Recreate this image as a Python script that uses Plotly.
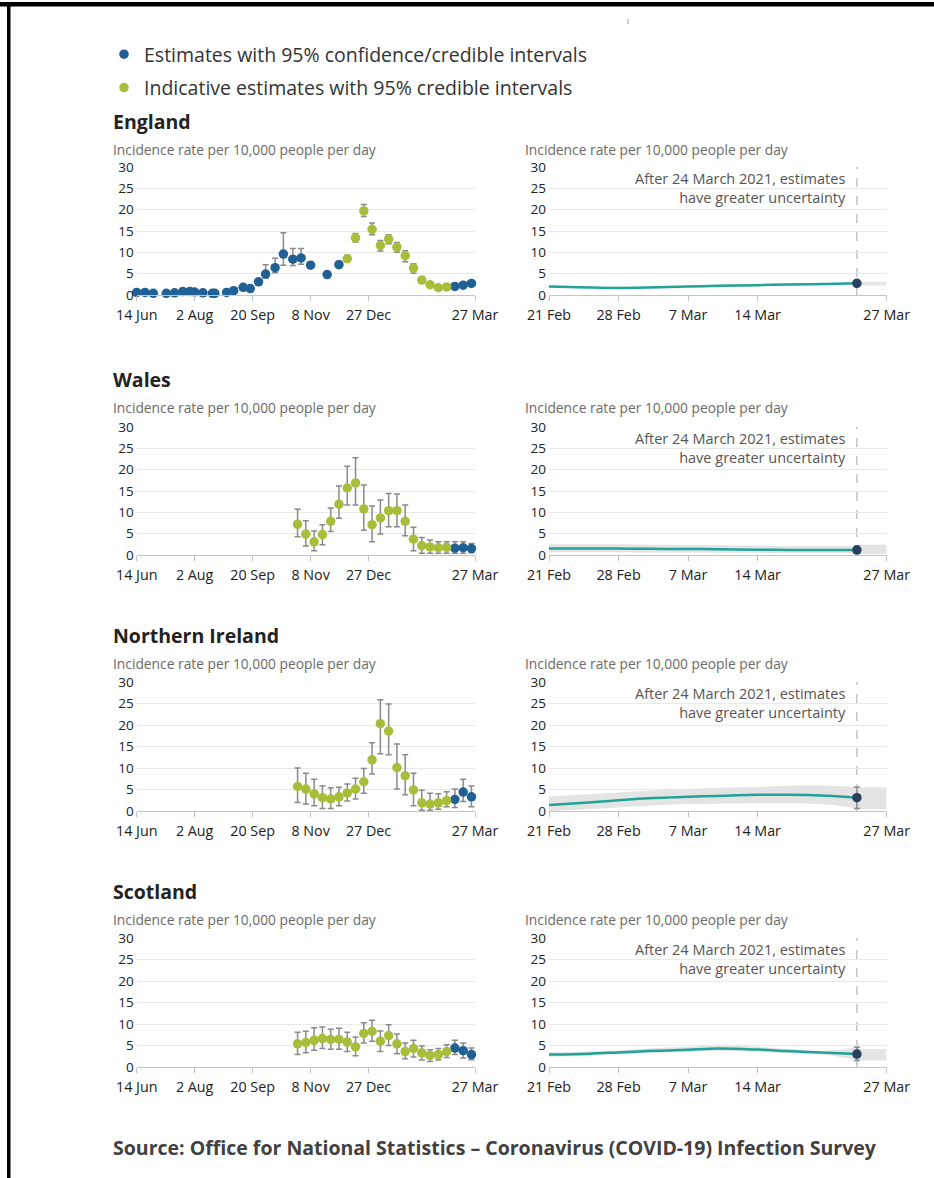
import plotly.graph_objects as go

W, H = 934, 1178

# ---------------- data ----------------
LEFT_TICKS = ["2020-06-14", "2020-08-02", "2020-09-20", "2020-11-08", "2020-12-27", "2021-03-27"]
LEFT_TICKTEXT = ["14 Jun", "2 Aug", "20 Sep", "8 Nov", "27 Dec", "27 Mar"]
RIGHT_TICKS = ["2021-02-21", "2021-02-28", "2021-03-07", "2021-03-14", "2021-03-27"]
RIGHT_TICKTEXT = ["21 Feb", "28 Feb", "7 Mar", "14 Mar", "27 Mar"]
Y_TICKS = [0, 5, 10, 15, 20, 25, 30]

countries = ["England", "Wales", "Northern Ireland", "Scotland"]

eng_dates = ["2020-06-14", "2020-06-21", "2020-06-28", "2020-07-09", "2020-07-16", "2020-07-23",
             "2020-07-29", "2020-08-02", "2020-08-09", "2020-08-17", "2020-08-19", "2020-08-29",
             "2020-09-04", "2020-09-12", "2020-09-18", "2020-09-25", "2020-10-01", "2020-10-09",
             "2020-10-16", "2020-10-24", "2020-10-31", "2020-11-08", "2020-11-22", "2020-12-02",
             "2020-12-09", "2020-12-16", "2020-12-23", "2020-12-30", "2021-01-06", "2021-01-13",
             "2021-01-20", "2021-01-27", "2021-02-03", "2021-02-10", "2021-02-17", "2021-02-24",
             "2021-03-03", "2021-03-10", "2021-03-17", "2021-03-24"]
eng_val = [0.6, 0.6, 0.4, 0.4, 0.5, 0.8, 0.8, 0.7, 0.5, 0.4, 0.4, 0.6, 1.0, 1.8, 1.5, 3.1, 4.9, 6.4,
           9.6, 8.4, 8.7, 7.0, 4.8, 7.1, 8.5, 13.4, 19.7, 15.4, 11.6, 13.1, 11.2, 9.2, 6.3, 3.5,
           2.4, 1.7, 1.9, 2.0, 2.3, 2.7]
eng_lo = [0.4, 0.4, 0.2, 0.2, 0.3, 0.5, 0.5, 0.5, 0.3, 0.2, 0.2, 0.4, 0.7, 1.3, 1.1, 2.5, 4.0, 5.2,
          7.0, 6.9, 7.2, 6.3, 4.3, 6.4, 7.8, 12.4, 18.4, 14.1, 10.3, 12.0, 10.0, 7.8, 5.1, 2.8,
          1.9, 1.3, 1.5, 1.6, 1.9, 2.3]
eng_hi = [0.9, 0.9, 0.7, 0.7, 0.8, 1.1, 1.1, 1.0, 0.8, 0.7, 0.7, 0.9, 1.4, 2.3, 2.0, 3.8, 7.1, 8.6,
          14.6, 10.9, 10.9, 7.8, 5.4, 7.9, 9.3, 14.4, 21.2, 16.9, 12.8, 14.1, 12.3, 10.4, 7.3, 4.3,
          3.0, 2.2, 2.4, 2.5, 2.8, 3.2]
eng_kind = ["E"] * 24 + ["I"] * 13 + ["E"] * 3

dev_dates = ["2020-10-28", "2020-11-04", "2020-11-11", "2020-11-18", "2020-11-25", "2020-12-02",
             "2020-12-09", "2020-12-16", "2020-12-23", "2020-12-30", "2021-01-06", "2021-01-13",
             "2021-01-20", "2021-01-27", "2021-02-03", "2021-02-10", "2021-02-17", "2021-02-24",
             "2021-03-03", "2021-03-10", "2021-03-17", "2021-03-24"]
dev_kind = ["I"] * 19 + ["E"] * 3

wal_val = [7.2, 4.9, 3.1, 4.8, 7.9, 11.9, 15.7, 16.9, 10.8, 7.1, 8.7, 10.4, 10.4, 7.9, 3.7, 2.2,
           1.9, 1.7, 1.8, 1.6, 1.7, 1.5]
wal_lo = [4.3, 2.1, 1.0, 2.4, 5.5, 8.6, 11.7, 11.7, 5.8, 3.1, 4.9, 6.6, 6.6, 4.5, 1.0, 0.4,
          0.4, 0.4, 0.4, 0.4, 0.4, 0.5]
wal_hi = [10.7, 8.0, 5.6, 7.1, 11.0, 16.2, 20.8, 22.8, 16.4, 11.5, 12.9, 14.4, 14.3, 11.7, 6.5, 4.1,
          3.5, 3.1, 3.1, 3.1, 3.1, 2.7]

ni_val = [5.7, 5.1, 4.0, 3.1, 2.8, 3.3, 4.2, 5.1, 6.8, 11.9, 20.3, 18.6, 10.1, 8.2, 4.9, 1.9,
          1.6, 1.9, 2.4, 2.7, 4.4, 3.3]
ni_lo = [2.0, 1.6, 1.2, 0.6, 0.6, 1.2, 2.3, 2.8, 4.1, 8.6, 13.3, 13.1, 5.1, 3.8, 1.2, 0.2,
         0.2, 0.4, 1.0, 0.8, 2.2, 1.0]
ni_hi = [10.0, 8.8, 7.4, 5.8, 5.4, 5.5, 6.3, 7.6, 9.9, 15.9, 25.9, 24.9, 15.6, 13.1, 8.8, 4.8,
         4.1, 4.0, 4.5, 5.1, 7.4, 5.8]

sco_val = [5.4, 5.7, 6.2, 6.6, 6.4, 6.4, 5.8, 4.7, 7.8, 8.3, 6.0, 7.3, 5.4, 3.6, 4.3, 3.3,
           2.7, 2.9, 3.6, 4.4, 3.8, 2.9]
sco_lo = [2.9, 3.3, 3.9, 4.3, 4.1, 4.1, 3.6, 2.6, 5.6, 6.0, 3.6, 5.0, 3.1, 1.9, 2.3, 1.6,
          1.3, 1.6, 2.2, 2.9, 2.1, 1.7]
sco_hi = [8.1, 8.3, 9.1, 9.3, 8.8, 9.0, 8.1, 7.0, 10.3, 10.9, 8.4, 9.8, 7.7, 5.6, 6.2, 4.9,
          4.0, 4.3, 5.2, 6.2, 5.6, 4.4]

# modelled (right-hand) charts
mod_dates = ["2021-02-21", "2021-02-25", "2021-02-28", "2021-03-03", "2021-03-07",
             "2021-03-10", "2021-03-14", "2021-03-17", "2021-03-21", "2021-03-24"]
ext_dates = ["2021-03-24", "2021-03-27"]
last_date = "2021-03-24"

eng_mod = [2.0, 1.75, 1.65, 1.75, 2.0, 2.15, 2.3, 2.45, 2.6, 2.75]
eng_mod_lo = [1.75, 1.5, 1.4, 1.5, 1.75, 1.9, 2.05, 2.2, 2.35, 2.45]
eng_mod_hi = [2.25, 2.0, 1.9, 2.0, 2.25, 2.4, 2.55, 2.7, 2.85, 3.05]
eng_ext = [2.2, 3.1]

wal_mod = [1.5, 1.5, 1.5, 1.45, 1.4, 1.35, 1.25, 1.2, 1.2, 1.15]
wal_mod_lo = [0.65, 0.65, 0.65, 0.6, 0.6, 0.55, 0.5, 0.45, 0.45, 0.4]
wal_mod_hi = [2.5, 2.5, 2.5, 2.4, 2.35, 2.3, 2.2, 2.1, 2.1, 2.1]
wal_ext = [0.15, 2.4]

ni_mod = [1.4, 2.0, 2.5, 2.95, 3.3, 3.5, 3.75, 3.8, 3.55, 3.1]
ni_mod_lo = [0.0, 0.4, 0.8, 1.2, 1.6, 1.7, 1.8, 1.8, 1.5, 0.6]
ni_mod_hi = [3.4, 3.9, 4.3, 4.7, 5.1, 5.4, 5.6, 5.9, 5.9, 5.6]
ni_ext = [0.4, 5.5]

sco_mod = [2.9, 3.1, 3.4, 3.7, 4.0, 4.3, 4.05, 3.7, 3.3, 3.0]
sco_mod_lo = [2.4, 2.6, 2.9, 3.2, 3.5, 3.7, 3.5, 3.2, 2.8, 1.5]
sco_mod_hi = [3.4, 3.6, 3.9, 4.3, 4.7, 5.0, 4.7, 4.2, 3.8, 4.6]
sco_ext = [1.5, 4.2]

left_data = [
    (eng_dates, eng_val, eng_lo, eng_hi, eng_kind),
    (dev_dates, wal_val, wal_lo, wal_hi, dev_kind),
    (dev_dates, ni_val, ni_lo, ni_hi, dev_kind),
    (dev_dates, sco_val, sco_lo, sco_hi, dev_kind),
]
right_data = [
    (eng_mod, eng_mod_lo, eng_mod_hi, eng_ext),
    (wal_mod, wal_mod_lo, wal_mod_hi, wal_ext),
    (ni_mod, ni_mod_lo, ni_mod_hi, ni_ext),
    (sco_mod, sco_mod_lo, sco_mod_hi, sco_ext),
]

# ---------------- styling ----------------
BLUE = "#206095"
GREEN = "#a8bd3a"
NAVY = "#27405e"
TEAL = "#22a39a"
BAND = "#e4e4e4"
ERR = "#8a8a8a"
GRID = "#e9e9e9"
AXIS = "#c4c4c4"
TXT = "#222222"
FONT = "Open Sans"

LEGEND_NAMES = {"E": "Estimates with 95% confidence/credible intervals",
                "I": "Indicative estimates with 95% credible intervals"}
COLORS = {"E": BLUE, "I": GREEN}

def px(x):
    return x / W

def py(y):
    return 1 - y / H

row_zero = [295, 555, 811, 1067]
row_top = [167, 427, 682, 938]
row_title = [121, 379, 635, 891]
row_axtitle = [149.5, 407.5, 663.5, 919.5]
LEFT_X = (136.7, 475.0)
RIGHT_X = (549.0, 886.7)

fig = go.Figure()
layout_axes = {}
annotations = []
shapes = []

legend_done = set()

for i, country in enumerate(countries):
    li, ri = 2 * i + 1, 2 * i + 2
    lx = "x" if li == 1 else f"x{li}"
    ly = "y" if li == 1 else f"y{li}"
    rx, ry = f"x{ri}", f"y{ri}"

    dates, vals, lo, hi, kind = left_data[i]
    for k in ["E", "I"]:
        xs, ys, ep, em = [], [], [], []
        for d, v, l, h, kk in zip(dates, vals, lo, hi, kind):
            if kk == k:
                xs.append(d); ys.append(v); ep.append(h - v); em.append(v - l)
        if not xs:
            continue
        show = k not in legend_done
        legend_done.add(k)
        fig.add_trace(go.Scatter(
            x=xs, y=ys, mode="markers", xaxis=lx, yaxis=ly,
            name=LEGEND_NAMES[k], showlegend=show, legendgroup=k,
            legendrank=1 if k == "E" else 2,
            marker=dict(color=COLORS[k], size=9.5, line=dict(width=0)),
            error_y=dict(type="data", symmetric=False, array=ep, arrayminus=em,
                         color=ERR, thickness=1.5, width=3),
            cliponaxis=False, hoverinfo="x+y"))

    mod, mlo, mhi, ext = right_data[i]
    # extended band after 24 March
    fig.add_trace(go.Scatter(x=ext_dates, y=[ext[0], ext[0]], mode="lines", line=dict(width=0),
                             xaxis=rx, yaxis=ry, showlegend=False, hoverinfo="skip"))
    fig.add_trace(go.Scatter(x=ext_dates, y=[ext[1], ext[1]], mode="lines", line=dict(width=0),
                             fill="tonexty", fillcolor=BAND, xaxis=rx, yaxis=ry,
                             showlegend=False, hoverinfo="skip"))
    # credible band
    fig.add_trace(go.Scatter(x=mod_dates, y=mlo, mode="lines", line=dict(width=0, shape="spline"),
                             xaxis=rx, yaxis=ry, showlegend=False, hoverinfo="skip"))
    fig.add_trace(go.Scatter(x=mod_dates, y=mhi, mode="lines", line=dict(width=0, shape="spline"),
                             fill="tonexty", fillcolor=BAND, xaxis=rx, yaxis=ry,
                             showlegend=False, hoverinfo="skip"))
    # modelled line
    fig.add_trace(go.Scatter(x=mod_dates, y=mod, mode="lines",
                             line=dict(color=TEAL, width=2.5, shape="spline"),
                             xaxis=rx, yaxis=ry, showlegend=False))
    # latest estimate point
    pv = mod[-1]
    fig.add_trace(go.Scatter(
        x=[last_date], y=[pv], mode="markers", xaxis=rx, yaxis=ry, showlegend=False,
        marker=dict(color=NAVY, size=9.5),
        error_y=dict(type="data", symmetric=False, array=[mhi[-1] - pv], arrayminus=[pv - mlo[-1]],
                     color=ERR, thickness=1.5, width=3),
        cliponaxis=False))

    ydom = [py(row_zero[i]), py(row_top[i])]
    yax = dict(domain=ydom, range=[0, 30], tickvals=Y_TICKS, showgrid=True, gridcolor=GRID,
               gridwidth=1, zeroline=False, showline=False, ticks="", automargin=False,
               ticklabelstandoff=2,
               tickfont=dict(size=13.5, color=TXT, family=FONT), fixedrange=True)
    xcommon = dict(type="date", showline=True, linecolor=AXIS, linewidth=1, ticks="outside",
                   ticklen=5, tickcolor=AXIS, showgrid=False, zeroline=False, automargin=False,
                   ticklabelstandoff=2,
                   tickfont=dict(size=14.3, color=TXT, family=FONT), fixedrange=True)
    layout_axes["xaxis" if li == 1 else f"xaxis{li}"] = dict(
        xcommon, domain=[px(LEFT_X[0]), px(LEFT_X[1])], range=["2020-06-14", "2021-03-27"],
        tickvals=LEFT_TICKS, ticktext=LEFT_TICKTEXT, anchor=ly)
    layout_axes["yaxis" if li == 1 else f"yaxis{li}"] = dict(yax, anchor=lx)
    layout_axes[f"xaxis{ri}"] = dict(
        xcommon, domain=[px(RIGHT_X[0]), px(RIGHT_X[1])], range=["2021-02-21", "2021-03-27"],
        tickvals=RIGHT_TICKS, ticktext=RIGHT_TICKTEXT, anchor=ry)
    layout_axes[f"yaxis{ri}"] = dict(yax, anchor=rx)

    # titles
    annotations.append(dict(text=f"<b>{country}</b>", x=px(111), y=py(row_title[i]), xref="paper",
                            yref="paper", xanchor="left", yanchor="middle", showarrow=False,
                            font=dict(size=19.5, color=TXT, family=FONT)))
    for xx in (111, 523):
        annotations.append(dict(text="Incidence rate per 10,000 people per day", x=px(xx),
                                y=py(row_axtitle[i]), xref="paper", yref="paper",
                                xanchor="left", yanchor="middle", showarrow=False,
                                font=dict(size=13.8, color="#6a6a6a", family=FONT)))
    annotations.append(dict(text="After 24 March 2021, estimates<br>have greater uncertainty",
                            x=px(848), y=py(row_top[i] + 21), xref="paper", yref="paper",
                            xanchor="right", yanchor="middle", align="right", showarrow=False,
                            font=dict(size=14.5, color="#555555", family=FONT)))
    shapes.append(dict(type="line", xref=rx, yref=f"{ry} domain", x0=last_date, x1=last_date,
                       y0=0, y1=1, line=dict(color="#a8a8a8", width=1, dash="dash"), layer="below"))

annotations.append(dict(
    text="<b>Source: Office for National Statistics – Coronavirus (COVID-19) Infection Survey</b>",
    x=px(111), y=py(1147), xref="paper", yref="paper", xanchor="left", yanchor="middle",
    showarrow=False, font=dict(size=19.5, color="#414042", family=FONT)))

# outer frame (top and left) and small mark
shapes.append(dict(type="rect", xref="paper", yref="paper", x0=0, x1=1, y0=py(6.5), y1=py(2),
                   fillcolor="black", line=dict(width=0)))
shapes.append(dict(type="rect", xref="paper", yref="paper", x0=px(7), x1=px(10.5), y0=0, y1=py(2),
                   fillcolor="black", line=dict(width=0)))
shapes.append(dict(type="line", xref="paper", yref="paper", x0=px(628), x1=px(628), y0=py(24),
                   y1=py(19), line=dict(color="#9a9aa8", width=1)))

fig.update_layout(
    width=W, height=H, margin=dict(l=0, r=0, t=0, b=0, pad=0, autoexpand=False),
    paper_bgcolor="white", plot_bgcolor="white",
    font=dict(family=FONT, color=TXT),
    showlegend=True,
    legend=dict(x=px(104), y=py(35), xanchor="left", yanchor="top", bgcolor="rgba(0,0,0,0)",
                traceorder="grouped", font=dict(size=19.5, color="#333333", family=FONT),
                tracegroupgap=5, itemclick=False, itemdoubleclick=False),
    annotations=annotations, shapes=shapes,
    **layout_axes)

fig.write_html("out.html", post_script="document.body.style.margin='0';",
               config={"displayModeBar": False})
